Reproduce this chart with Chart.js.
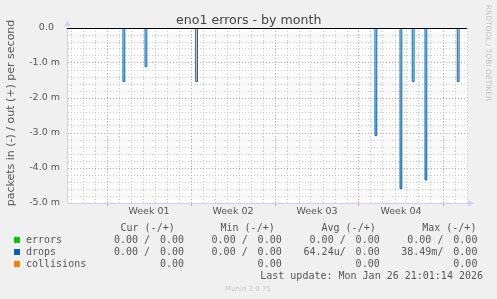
<!DOCTYPE html>
<html>
<head>
<meta charset="utf-8">
<script src="https://cdn.jsdelivr.net/npm/chart.js@4/dist/chart.umd.min.js"></script>
<style>
  html, body { margin: 0; padding: 0; background: #f0f0f0; }
  #wrap { width: 497px; height: 299px; }
</style>
</head>
<body>
<div id="wrap"><canvas id="chart" width="497" height="299"></canvas></div>
<script>
// x axis is in days, week labels sit between the red week lines
const weekLabels = ['Week 01', 'Week 02', 'Week 03', 'Week 04'];
const weekLabelDays = [6.5, 13.5, 20.5, 27.5];
const weekStartDays = [3, 10, 17, 24, 31];

// drops, in milli packets per second (negative = in)
const dropDays = [4.33, 6.17, 10.39, 25.33, 27.42, 28.44, 29.5, 32.19];
const dropValues = [-1.53, -1.10, -1.53, -3.07, -4.59, -1.53, -4.34, -1.53];

// legend table
const seriesNames = ['errors', 'drops', 'collisions'];
const seriesColors = ['#00cc00', '#0066b3', '#ff8000'];
const statHeaders = ['Cur (-/+)', 'Min (-/+)', 'Avg (-/+)', 'Max (-/+)'];
const errorsStats = [['0.00 ', '0.00'], ['0.00 ', '0.00'], ['0.00 ', '0.00'], ['0.00 ', '0.00']];
const dropsStats = [['0.00 ', '0.00'], ['0.00 ', '0.00'], ['64.24u', '0.00'], ['38.49m', '0.00']];
const collisionsStats = [[null, '0.00'], [null, '0.00'], [null, '0.00'], [null, '0.00']];
const lastUpdate = 'Last update: Mon Jan 26 21:01:14 2026';

const xMin = -1 / 3;
const xMax = 33;
const spikeWidth = 0.15;
const axisColor = '#cdd1f5';
const majorGrid = 'rgba(225, 140, 140, 0.9)';
const minorGrid = 'rgba(190, 190, 190, 0.8)';

let dropPoints = [{ x: xMin, y: 0 }];
for (let i = 0; i < dropDays.length; i++) {
  dropPoints.push({ x: dropDays[i], y: dropValues[i] });
  dropPoints.push({ x: dropDays[i] + spikeWidth, y: 0 });
}
dropPoints.push({ x: xMax, y: 0 });

let dayTicks = [];
for (let d = 0; d <= 33; d++) dayTicks.push(d);

function isMajorY(v) {
  return Math.abs(v - Math.round(v)) < 1e-6;
}

const muninDecor = {
  id: 'muninDecor',
  beforeDraw(chart) {
    const { ctx, chartArea: a } = chart;
    ctx.save();
    ctx.fillStyle = '#f0f0f0';
    ctx.fillRect(0, 0, chart.width, chart.height);
    ctx.fillStyle = '#ffffff';
    ctx.fillRect(a.left, a.top, a.right - a.left, a.bottom - a.top);
    ctx.restore();
  },
  afterDatasetsDraw(chart) {
    const { ctx, chartArea: a } = chart;
    const y0 = Math.round(chart.scales.y.getPixelForValue(0)) + 0.5;
    ctx.save();
    ctx.strokeStyle = '#000';
    ctx.lineWidth = 1;
    ctx.beginPath();
    ctx.moveTo(a.left, y0);
    ctx.lineTo(a.right, y0);
    ctx.stroke();
    ctx.restore();
  },
  afterDraw(chart) {
    const { ctx, chartArea: a } = chart;
    ctx.save();

    // axis arrows
    ctx.fillStyle = axisColor;
    ctx.beginPath();
    ctx.moveTo(a.left + 0.5, a.top - 8);
    ctx.lineTo(a.left - 2.5, a.top - 2);
    ctx.lineTo(a.left + 3.5, a.top - 2);
    ctx.fill();
    ctx.beginPath();
    ctx.moveTo(a.right + 7, a.bottom + 0.5);
    ctx.lineTo(a.right + 1, a.bottom - 2.5);
    ctx.lineTo(a.right + 1, a.bottom + 3.5);
    ctx.fill();

    // title
    ctx.fillStyle = '#444';
    ctx.font = '12.6px "DejaVu Sans"';
    ctx.textAlign = 'center';
    ctx.textBaseline = 'alphabetic';
    ctx.fillText('eno1 errors - by month', 248.7, 24);

    // y axis title
    ctx.save();
    ctx.translate(14, 113);
    ctx.rotate(-Math.PI / 2);
    ctx.font = '11px "DejaVu Sans"';
    ctx.fillStyle = '#555';
    ctx.fillText('packets in (-) / out (+) per second', 0, 0);
    ctx.restore();

    // rrdtool credit
    ctx.save();
    ctx.translate(488, 53);
    ctx.rotate(Math.PI / 2);
    ctx.font = '7.5px "DejaVu Sans"';
    ctx.fillStyle = '#c4c4c4';
    ctx.textBaseline = 'middle';
    ctx.fillText('RRDTOOL / TOBI OETIKER', 0, 0);
    ctx.restore();

    // legend
    const outRight = [184, 281.7, 379.7, 477.4];
    const headRight = [174.7, 274.7, 375.7, 476.4];
    const rowBase = [243, 255, 267];
    const rows = [errorsStats, dropsStats, collisionsStats];
    ctx.font = '10px "DejaVu Sans Mono"';
    ctx.fillStyle = '#555';
    ctx.textAlign = 'right';
    for (let c = 0; c < statHeaders.length; c++) {
      ctx.fillText(statHeaders[c], headRight[c], 231);
    }
    for (let r = 0; r < seriesNames.length; r++) {
      ctx.fillStyle = seriesColors[r];
      ctx.fillRect(14, rowBase[r] - 6, 6, 6);
      ctx.fillStyle = '#555';
      ctx.textAlign = 'left';
      ctx.fillText(seriesNames[r], 26, rowBase[r]);
      ctx.textAlign = 'right';
      for (let c = 0; c < 4; c++) {
        const [inVal, outVal] = rows[r][c];
        if (inVal !== null) ctx.fillText(inVal + '/', outRight[c] - 34, rowBase[r]);
        ctx.fillText(outVal, outRight[c], rowBase[r]);
      }
    }
    ctx.fillText(lastUpdate, 483, 279);

    ctx.font = '7px "DejaVu Sans"';
    ctx.fillStyle = '#c8c8c8';
    ctx.textAlign = 'center';
    ctx.fillText('Munin 2.0.75', 248, 290.5);
    ctx.restore();
  }
};

new Chart(document.getElementById('chart'), {
  type: 'line',
  data: {
    datasets: [
      {
        label: 'drops',
        data: dropPoints,
        borderColor: '#0066b3',
        backgroundColor: (c) => {
          const area = c.chart.chartArea;
          if (!area) return 'rgba(0, 102, 179, 0.3)';
          const g = c.chart.ctx.createLinearGradient(0, area.top, 0, area.bottom);
          g.addColorStop(0, 'rgba(0, 102, 179, 0.12)');
          g.addColorStop(1, 'rgba(0, 102, 179, 0.55)');
          return g;
        },
        borderWidth: 1,
        fill: 'origin',
        stepped: 'before',
        pointRadius: 0
      }
    ]
  },
  options: {
    responsive: false,
    animation: false,
    events: [],
    layout: { padding: { top: 28, right: 30, bottom: 76, left: 0 } },
    plugins: {
      legend: { display: false },
      title: { display: false },
      tooltip: { enabled: false }
    },
    scales: {
      x: {
        type: 'linear',
        min: xMin,
        max: xMax,
        afterBuildTicks: (scale) => {
          scale.ticks = dayTicks.concat(weekLabelDays).sort((p, q) => p - q).map(v => ({ value: v }));
        },
        afterFit: (scale) => { scale.height = 20; },
        ticks: {
          autoSkip: false,
          maxRotation: 0,
          padding: 0,
          color: '#555',
          font: { family: 'DejaVu Sans', size: 9.5 },
          callback: (v) => {
            const i = weekLabelDays.indexOf(v);
            return i >= 0 ? weekLabels[i] : '';
          }
        },
        grid: {
          lineWidth: 1,
          tickLength: 3,
          color: (c) => {
            const v = c.tick ? c.tick.value : null;
            if (weekLabelDays.includes(v)) return 'rgba(0,0,0,0)';
            return weekStartDays.includes(v) ? majorGrid : minorGrid;
          },
          tickColor: (c) => {
            const v = c.tick ? c.tick.value : null;
            return weekStartDays.includes(v) ? majorGrid : 'rgba(0,0,0,0)';
          }
        },
        border: { color: axisColor, dash: [1, 2] }
      },
      y: {
        min: -5,
        max: 0,
        afterFit: (scale) => { scale.width = 67; },
        ticks: {
          stepSize: 0.2,
          autoSkip: false,
          padding: 7,
          color: '#555',
          font: { family: 'DejaVu Sans', size: 9.5 },
          callback: (v) => {
            if (!isMajorY(v)) return '';
            const n = Math.round(v);
            return n === 0 ? '0.0  ' : n.toFixed(1) + ' m';
          }
        },
        grid: {
          drawTicks: false,
          lineWidth: 1,
          color: (c) => (c.tick && isMajorY(c.tick.value) ? majorGrid : minorGrid)
        },
        border: { color: axisColor, dash: [1, 2] }
      }
    }
  },
  plugins: [muninDecor]
});
</script>
</body>
</html>
